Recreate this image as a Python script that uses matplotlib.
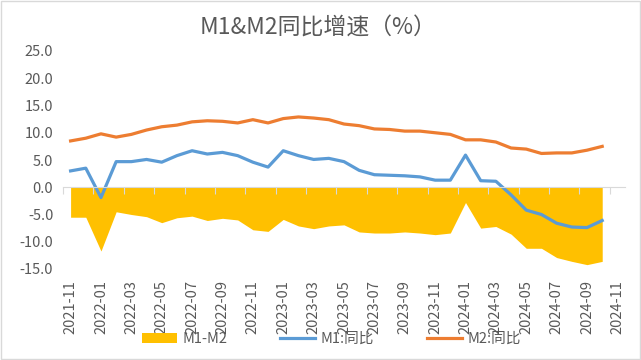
import numpy as np
import matplotlib
matplotlib.use("Agg")
import matplotlib.pyplot as plt
from matplotlib.patches import Rectangle

plt.rcParams['font.family'] = ['Noto Sans CJK SC', 'DejaVu Sans']

# monthly data, 2021-11 .. 2024-10 (2024-11 is an empty category on the axis)
months = ['2021-11', '2021-12', '2022-01', '2022-02', '2022-03', '2022-04', '2022-05', '2022-06',
          '2022-07', '2022-08', '2022-09', '2022-10', '2022-11', '2022-12', '2023-01', '2023-02',
          '2023-03', '2023-04', '2023-05', '2023-06', '2023-07', '2023-08', '2023-09', '2023-10',
          '2023-11', '2023-12', '2024-01', '2024-02', '2024-03', '2024-04', '2024-05', '2024-06',
          '2024-07', '2024-08', '2024-09', '2024-10', '2024-11']
m1 = [3.0, 3.5, -1.9, 4.7, 4.7, 5.1, 4.6, 5.8, 6.7, 6.1, 6.4, 5.8, 4.6, 3.7, 6.7, 5.8,
      5.1, 5.3, 4.7, 3.1, 2.3, 2.2, 2.1, 1.9, 1.3, 1.3, 5.9, 1.2, 1.1, -1.4, -4.2, -5.0,
      -6.6, -7.3, -7.4, -6.1]
m2 = [8.5, 9.0, 9.8, 9.2, 9.7, 10.5, 11.1, 11.4, 12.0, 12.2, 12.1, 11.8, 12.4, 11.8, 12.6, 12.9,
      12.7, 12.4, 11.6, 11.3, 10.7, 10.6, 10.3, 10.3, 10.0, 9.7, 8.7, 8.7, 8.3, 7.2, 7.0, 6.2,
      6.3, 6.3, 6.8, 7.5]
spread = [a - b for a, b in zip(m1, m2)]

BLUE = '#5B9BD5'
ORANGE = '#ED7D31'
GOLD = '#FFC000'
GREY = '#595959'
AXIS = '#D9D9D9'

fig = plt.figure(figsize=(6.41, 3.6), dpi=100)
ax = fig.add_axes([63 / 641, 1 - 269 / 360, (625 - 63) / 641, (269 - 51) / 360])

x = np.arange(len(m1))
ax.fill_between(x, 0, spread, color=GOLD, linewidth=0, label='M1-M2')
ax.plot(x, m1, color=BLUE, lw=2.3, label='M1:同比')
ax.plot(x, m2, color=ORANGE, lw=2.3, label='M2:同比')

ax.set_xlim(-0.5, len(months) - 0.5)
ax.set_ylim(-15, 25)
yt = np.arange(-15, 26, 5)
ax.set_yticks(yt)
ax.set_yticklabels([f'{v:.1f}' for v in yt])
ax.tick_params(axis='y', length=0, pad=7, labelsize=10.5, labelcolor=GREY)

for s in ['top', 'right', 'left']:
    ax.spines[s].set_visible(False)
# x axis line sits at zero, with ticks between categories
ax.spines['bottom'].set_position(('data', 0))
ax.spines['bottom'].set_color(AXIS)
ax.set_xticks(np.arange(-0.5, len(months) - 0.5, 2))
ax.tick_params(axis='x', length=5, color=AXIS, labelbottom=False)

# labels stay at the bottom of the plot
sec = ax.secondary_xaxis(0)
sec.set_xticks(np.arange(0, len(months), 2))
sec.set_xticklabels(months[::2], rotation=90)
sec.tick_params(length=0, pad=8, labelsize=10.5, labelcolor=GREY)
sec.spines['bottom'].set_visible(False)

fig.text(0.496, 1 - 28 / 360, 'M1&M2同比增速（%）', ha='center', va='center',
         fontsize=16.5, color=GREY)

fig.legend(loc='center', bbox_to_anchor=(0.517, 1 - 339 / 360), ncol=3, frameon=False,
           fontsize=10.5, labelcolor=GREY, columnspacing=3.6, handlelength=2.4,
           handletextpad=0.4)

fig.add_artist(Rectangle((0.001, 0.002), 0.997, 0.995, transform=fig.transFigure,
                         fill=False, edgecolor=AXIS, lw=1))

fig.savefig('out.png', dpi=100)
